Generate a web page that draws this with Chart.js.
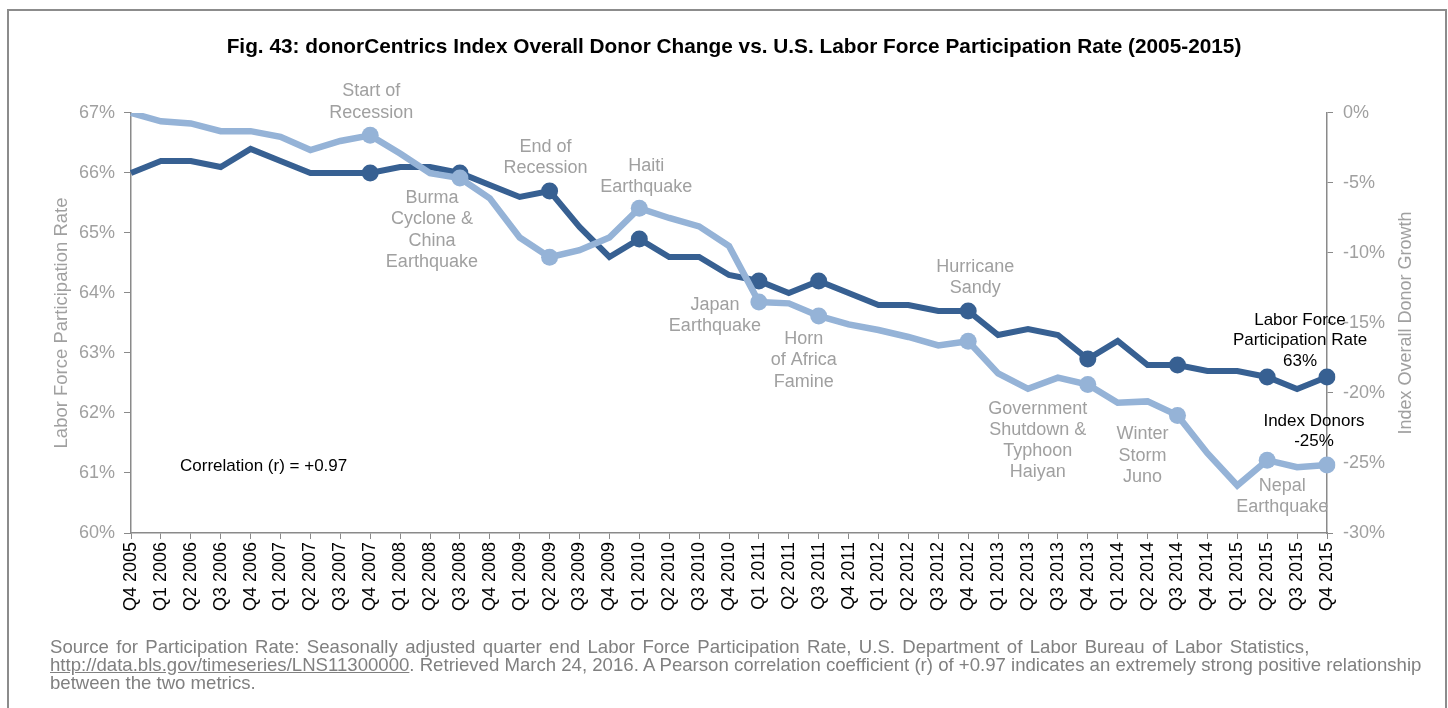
<!DOCTYPE html>
<html>
<head>
<meta charset="utf-8">
<script src="https://cdn.jsdelivr.net/npm/chart.js@4.4.1/dist/chart.umd.min.js"></script>
<style>
  html, body { margin: 0; padding: 0; background: #fff; }
  body { width: 1448px; height: 708px; position: relative; overflow: hidden; font-family: 'Liberation Sans', Arial, sans-serif; }
  #frame { position: absolute; left: 7px; top: 9px; width: 1436px; height: 720px; border: 2px solid #8c8c8c; }
  #c { position: absolute; left: 0; top: 0; }
  #foot { position: absolute; left: 50px; top: 638px; width: 1390px; font-size: 18.6px; line-height: 18px; color: #808080; white-space: nowrap; }
  #foot a { color: #808080; text-decoration: underline; }
  #foot .l1 { word-spacing: 2.2px; }
</style>
</head>
<body>
<div id="frame"></div>
<canvas id="c" width="1448" height="708"></canvas>
<div id="foot"><span class="l1">Source for Participation Rate: Seasonally adjusted quarter end Labor Force Participation Rate, U.S. Department of Labor Bureau of Labor Statistics,</span><br><a>http://data.bls.gov/timeseries/LNS11300000</a>. Retrieved March 24, 2016. A Pearson correlation coefficient (r) of +0.97 indicates an extremely strong positive relationship<br>between the two metrics.</div>
<script>
const quarters = ['Q4 2005','Q1 2006','Q2 2006','Q3 2006','Q4 2006','Q1 2007','Q2 2007','Q3 2007','Q4 2007','Q1 2008','Q2 2008','Q3 2008','Q4 2008','Q1 2009','Q2 2009','Q3 2009','Q4 2009','Q1 2010','Q2 2010','Q3 2010','Q4 2010','Q1 2011','Q2 2011','Q3 2011','Q4 2011','Q1 2012','Q2 2012','Q3 2012','Q4 2012','Q1 2013','Q2 2013','Q3 2013','Q4 2013','Q1 2014','Q2 2014','Q3 2014','Q4 2014','Q1 2015','Q2 2015','Q3 2015','Q4 2015'];
const laborRate = [66.0,66.2,66.2,66.1,66.4,66.2,66.0,66.0,66.0,66.1,66.1,66.0,65.8,65.6,65.7,65.1,64.6,64.9,64.6,64.6,64.3,64.2,64.0,64.2,64.0,63.8,63.8,63.7,63.7,63.3,63.4,63.3,62.9,63.2,62.8,62.8,62.7,62.7,62.6,62.4,62.6];
const donorGrowth = [0.0,-0.6,-0.75,-1.3,-1.3,-1.7,-2.65,-2.0,-1.6,-2.9,-4.3,-4.65,-6.1,-8.9,-10.3,-9.8,-8.9,-6.8,-7.5,-8.1,-9.5,-13.5,-13.6,-14.5,-15.1,-15.5,-16.0,-16.6,-16.3,-18.6,-19.7,-18.9,-19.4,-20.7,-20.6,-21.6,-24.3,-26.6,-24.8,-25.3,-25.15];
const leftTicks = [60,61,62,63,64,65,66,67];
const rightTicks = [0,-5,-10,-15,-20,-25,-30];
const markerIdx = [8,11,14,17,21,23,28,32,35,38,40];
const eventNames = [
  ['Start of','Recession'],
  ['End of','Recession'],
  ['Haiti','Earthquake'],
  ['Burma','Cyclone &','China','Earthquake'],
  ['Japan','Earthquake'],
  ['Horn','of Africa','Famine'],
  ['Hurricane','Sandy'],
  ['Government','Shutdown &','Typhoon','Haiyan'],
  ['Winter','Storm','Juno'],
  ['Nepal','Earthquake']
];
const endLabels = [['Labor Force','Participation Rate','63%'], ['Index Donors','-25%']];
const correlationText = 'Correlation (r) = +0.97';
const titleText = 'Fig. 43: donorCentrics Index Overall Donor Change vs. U.S. Labor Force Participation Rate (2005-2015)';

// placement of annotation blocks (dataset, point index, offsets)
const eventPlacement = [
  {ds:0, i:8,  dx:1,   dy:-44},
  {ds:1, i:14, dx:-4,  dy:-44},
  {ds:0, i:17, dx:7,   dy:-42},
  {ds:0, i:11, dx:-28, dy:20},
  {ds:0, i:21, dx:-44, dy:3},
  {ds:0, i:23, dx:-15, dy:23},
  {ds:1, i:28, dx:7,   dy:-44},
  {ds:0, i:32, dx:-50, dy:24},
  {ds:0, i:35, dx:-35, dy:19},
  {ds:0, i:38, dx:15,  dy:26}
];
const endPlacement = [{ds:1, i:40, dx:-27, dy:-57}, {ds:0, i:40, dx:-13, dy:-44}];

const FONT = "'Liberation Sans', Arial, sans-serif";
Chart.defaults.font.family = FONT;
const DARK = '#376092', LIGHT = '#95B3D7', AXIS = '#8a8a8a', TICKGRAY = '#a0a0a0';

const annotPlugin = {
  id: 'annot',
  afterDatasetsDraw(chart) {
    const ctx = chart.ctx;
    ctx.save();
    ctx.textAlign = 'center';
    ctx.textBaseline = 'middle';
    const drawBlock = (lines, p, color, size, lh) => {
      const pt = chart.getDatasetMeta(p.ds).data[p.i];
      ctx.fillStyle = color;
      ctx.font = size + 'px ' + FONT;
      lines.forEach((t, k) => ctx.fillText(t, pt.x + p.dx, pt.y + p.dy + k * lh));
    };
    eventNames.forEach((lines, k) => drawBlock(lines, eventPlacement[k], '#a0a0a0', 18, 21.3));
    endLabels.forEach((lines, k) => drawBlock(lines, endPlacement[k], '#000000', 17, 20.5));
    const a = chart.chartArea;
    ctx.fillStyle = '#000';
    ctx.font = '17px ' + FONT;
    ctx.textAlign = 'left';
    ctx.fillText(correlationText, a.left + 49, a.top + 353);
    // right axis title (reads bottom to top)
    ctx.save();
    ctx.translate(1406, (a.top + a.bottom) / 2);
    ctx.rotate(-Math.PI / 2);
    ctx.textAlign = 'center';
    ctx.fillStyle = TICKGRAY;
    ctx.font = '18px ' + FONT;
    ctx.fillText('Index Overall Donor Growth', 0, 0);
    ctx.restore();
    ctx.restore();
  }
};

new Chart(document.getElementById('c'), {
  type: 'line',
  data: {
    labels: quarters,
    datasets: [
      {
        label: 'Index Donors',
        data: donorGrowth,
        yAxisID: 'y1',
        borderColor: LIGHT,
        backgroundColor: LIGHT,
        borderWidth: 6.5,
        tension: 0,
        pointRadius: c => markerIdx.includes(c.dataIndex) ? 8.5 : 0,
        pointBorderWidth: 0,
        pointBackgroundColor: LIGHT,
        order: 0
      },
      {
        label: 'Labor Force Participation Rate',
        data: laborRate,
        yAxisID: 'y',
        borderColor: DARK,
        backgroundColor: DARK,
        borderWidth: 6,
        tension: 0,
        pointRadius: c => markerIdx.includes(c.dataIndex) ? 8.5 : 0,
        pointBorderWidth: 0,
        pointBackgroundColor: DARK,
        order: 1
      }
    ]
  },
  options: {
    responsive: false,
    animation: false,
    events: [],
    layout: { padding: { left: 47, right: 27, top: 0, bottom: 87 } },
    plugins: {
      legend: { display: false },
      tooltip: { enabled: false },
      title: {
        display: true,
        text: titleText,
        color: '#000',
        font: { size: 20.8, weight: 'bold', family: FONT },
        padding: { top: 35, bottom: 53 }
      }
    },
    scales: {
      x: {
        type: 'category',
        offset: false,
        grid: { drawOnChartArea: false, drawTicks: true, tickLength: 6, color: AXIS, lineWidth: 1 },
        border: { color: AXIS, width: 1.5 },
        ticks: { autoSkip: false, maxRotation: 90, minRotation: 90, color: '#000', font: { size: 18 }, padding: 3 },
        afterFit: s => { s.height = 88; }
      },
      y: {
        position: 'left',
        min: 60, max: 67,
        afterBuildTicks: s => { s.ticks = leftTicks.map(v => ({ value: v })); },
        grid: { drawOnChartArea: false, drawTicks: true, tickLength: 7, color: AXIS },
        border: { color: AXIS, width: 1.5 },
        ticks: { color: TICKGRAY, font: { size: 18 }, padding: 9, callback: v => v + '%' },
        title: { display: true, text: 'Labor Force Participation Rate', color: TICKGRAY, font: { size: 18.5 } },
        afterFit: s => { s.width = 84; }
      },
      y1: {
        position: 'right',
        min: -30, max: 0,
        afterBuildTicks: s => { s.ticks = rightTicks.map(v => ({ value: v })); },
        grid: { drawOnChartArea: false, drawTicks: true, tickLength: 6, color: AXIS },
        border: { color: AXIS, width: 1.5 },
        ticks: { color: TICKGRAY, font: { size: 18 }, padding: 10, callback: v => v + '%' },
        afterFit: s => { s.width = 94; }
      }
    }
  },
  plugins: [annotPlugin]
});
</script>
</body>
</html>
